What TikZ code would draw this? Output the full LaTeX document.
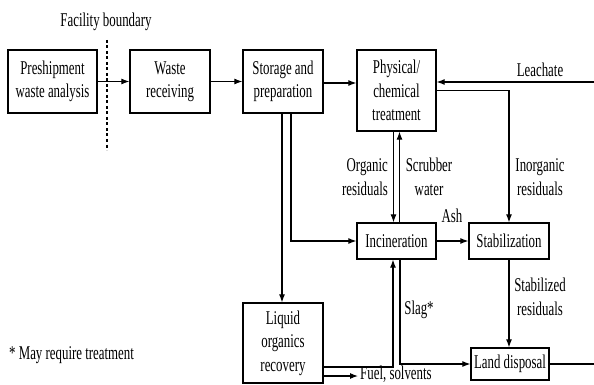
\documentclass[tikz,border=0pt]{standalone}
\usepackage{fontspec}
\setmainfont{Liberation Serif}[FakeStretch=0.66]
\usetikzlibrary{arrows.meta}
\begin{document}
\begin{tikzpicture}[x=1pt,y=-1pt,
  every node/.style={font=\fontsize{19.5}{23.5}\selectfont, inner sep=0pt},
  box/.style={draw, line width=1.3pt, align=center, minimum width=#1},
  lbl/.style={align=center},
  conn/.style={line width=1.1pt},
  arr/.style={conn, -{Latex[length=8pt,width=6pt]}}]
\useasboundingbox (0,0) rectangle (594,385);

% boxes
\node[box=89pt, minimum height=63pt] (pre) at (52.5,81.5) {Preshipment\\waste analysis};
\node[box=80pt, minimum height=63pt] (recv) at (170,81.5) {Waste\\receiving};
\node[box=80pt, minimum height=63pt] (stor) at (283,81.5) {Storage and\\preparation};
\node[box=79pt, minimum height=81pt] (phys) at (396.5,90.5) {Physical/\\chemical\\treatment};
\node[box=79pt, minimum height=36pt] (inc) at (396.5,241) {Incineration};
\node[box=80pt, minimum height=36pt] (stab) at (509,241) {Stabilization};
\node[box=80pt, minimum height=80pt] (liq) at (283,343) {Liquid\\organics\\recovery};
\node[box=78pt, minimum height=32pt] (land) at (510,364) {Land disposal};

% edge coordinates
\coordinate (leachin) at (594,82);
\coordinate (landout) at (594,364);
\coordinate (bndtop) at (107,40);
\coordinate (bndbot) at (107,150);
\coordinate (fuelstart) at ([yshift=-33pt]liq.east);

% labels
\node[lbl] (fb) at (106,22) {Facility boundary};
\node[lbl] (leach) at (540,70) {Leachate};
\node[lbl, align=right] (org) at (365,177) {Organic\\residuals};
\node[lbl] (scr) at (429,177) {Scrubber\\water};
\node[lbl] (inorg) at (540,177) {Inorganic\\residuals};
\node[lbl] (ash) at (452,216) {Ash};
\node[lbl] (slag) at (419,310) {Slag*};
\node[lbl] (stres) at (540,297) {Stabilized\\residuals};
\node[lbl, anchor=west, inner xsep=2pt] (fuel) at (358,374) {Fuel, solvents};
\node[lbl, anchor=west] (foot) at (9,355) {* May require treatment};

% facility boundary
\draw[line width=1.1pt, dash pattern=on 3pt off 2.5pt] (bndtop) -- (bndbot);

% connectors
\draw[arr] (pre) -- (recv);
\draw[arr] (recv) -- (stor);
\draw[arr] ([yshift=-1.5pt]stor.east) -- ([yshift=-1.5pt]stor.east -| phys.west);
\draw[arr] (leachin) -- (leachin -| phys.east);
\draw[arr] (phys.east) -| (stab.north);
\draw[arr] ([xshift=-3pt]phys.south) -- ([xshift=-3pt]inc.north);
\draw[arr] ([xshift=3pt]inc.north) -- ([xshift=3pt]phys.south);
\draw[arr] ([xshift=8pt]stor.south) |- (inc.west);
\draw[arr] ([xshift=-1pt]stor.south) -- ([xshift=-1pt]liq.north);
\draw[arr] (inc) -- (stab);
\draw[arr] (stab.south) -- (stab.south |- land.north);
\draw[arr] ([yshift=-24pt]liq.east) -| ([xshift=-3.5pt]inc.south);
\draw[arr] (fuelstart) -- (fuelstart -| fuel.west);
\draw[arr] ([xshift=3.5pt]inc.south) |- (land.west);
\draw[conn] (land.east) -- (landout);
\end{tikzpicture}
\end{document}
